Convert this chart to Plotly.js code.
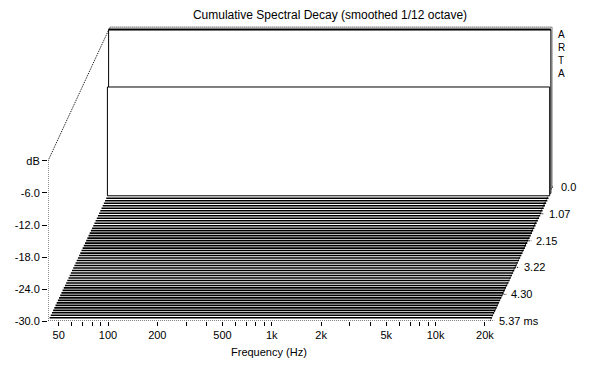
<!DOCTYPE html>
<html>
<head>
<meta charset="utf-8">
<script src="https://cdn.plot.ly/plotly-3.0.1.min.js"></script>
<style>html,body{margin:0;padding:0;background:#fff}#chart{width:595px;height:366px}</style>
</head>
<body>
<div id="chart"></div>
<script>
// ---------------- data ----------------
const sliceTimes = [0.000,0.107,0.215,0.322,0.430,0.537,0.644,0.752,0.859,0.967,
  1.074,1.181,1.289,1.396,1.504,1.611,1.718,1.826,1.933,2.041,
  2.148,2.255,2.363,2.470,2.578,2.685,2.792,2.900,3.007,3.115,
  3.222,3.329,3.437,3.544,3.652,3.759,3.866,3.974,4.081,4.189,
  4.296,4.403,4.511,4.618,4.726,4.833,4.940,5.048,5.155,5.263,5.370];
// level of each decay slice (dB), flat over frequency
const sliceLevels = [1.3,-9.0,-29.4,-29.4,-29.4,-29.4,-29.4,-29.4,-29.4,-29.4,
  -29.4,-29.4,-29.4,-29.4,-29.4,-29.4,-29.4,-29.4,-29.4,-29.4,
  -29.4,-29.4,-29.4,-29.4,-29.4,-29.4,-29.4,-29.4,-29.4,-29.4,
  -29.4,-29.4,-29.4,-29.4,-29.4,-29.4,-29.4,-29.4,-29.4,-29.4,
  -29.4,-29.4,-29.4,-29.4,-29.4,-29.4,-29.4,-29.4,-29.4,-29.4,-29.4];
const sliceFreqs = [44, 22050];          // frequency span of each slice (Hz)
const sliceFloor = -29.4;                // dB floor of the slices

const freqTicks = [50,60,70,80,90,100,200,300,400,500,600,700,800,900,1000,
  2000,3000,4000,5000,6000,7000,8000,9000,10000,20000];
const freqLabels = {50:'50',100:'100',200:'200',500:'500',1000:'1k',2000:'2k',5000:'5k',10000:'10k',20000:'20k'};
const dbTicks = [-30,-24,-18,-12,-6,0];
const dbLabels = ['-30.0','-24.0','-18.0','-12.0','-6.0','dB'];
const timeTicks = [0.0,1.07,2.15,3.22,4.30,5.37];
const timeLabels = ['0.0','1.07','2.15','3.22','4.30','5.37 ms'];

const axisFreq = [43, 21500];   // front frequency axis extent (Hz)
const axisDb = [-30, 0];
const TMAX = 5.37;

// ------------- projection (oblique 3D) -------------
const AX_DX = 0.3785, AX_DY = 25.1;   // depth offset of axis box (decades, dB)
const SL_DX = 0.3602, SL_DY = 23.34;  // depth offset of slices
const depth = t => (TMAX - t) / TMAX;
const L = Math.log10;
function proj(f, t, db, dx, dy) {
  const s = depth(t);
  return [Math.pow(10, L(f) + s*dx), db + s*dy];
}

const traces = [];
const dotted = {color:'#000', width:1, dash:'1px,1px'};
function seg(pts, line) {
  traces.push({type:'scatter', mode:'lines', x:pts.map(p=>p[0]), y:pts.map(p=>p[1]),
    line: line, hoverinfo:'skip', showlegend:false});
}
// axis frame
const fA = axisFreq[0], fB = axisFreq[1];
seg([proj(fA,TMAX,axisDb[0],AX_DX,AX_DY), proj(fA,TMAX,axisDb[1],AX_DX,AX_DY),
     proj(fA,0,axisDb[1],AX_DX,AX_DY), proj(fB,0,axisDb[1],AX_DX,AX_DY),
     proj(fB,0,axisDb[0],AX_DX,AX_DY)], dotted);
seg([proj(fA,TMAX,axisDb[0],AX_DX,AX_DY), proj(fB,TMAX,axisDb[0],AX_DX,AX_DY),
     proj(fB,0,axisDb[0],AX_DX,AX_DY)], dotted);
// time ticks
timeTicks.forEach(t => {
  const p = proj(fB,t,axisDb[0],AX_DX,AX_DY);
  seg([p, [p[0]*Math.pow(10,0.026), p[1]]], dotted);
});

// slices, back to front
sliceTimes.forEach((t,i) => {
  const lv = sliceLevels[i];
  const f0 = sliceFreqs[0], f1 = sliceFreqs[1];
  if (lv > sliceFloor) {
    const pts = [proj(f0,t,sliceFloor,SL_DX,SL_DY), proj(f0,t,lv,SL_DX,SL_DY),
                 proj(f1,t,lv,SL_DX,SL_DY), proj(f1,t,sliceFloor,SL_DX,SL_DY),
                 proj(f0,t,sliceFloor,SL_DX,SL_DY)];
    traces.push({type:'scatter', mode:'lines', x:pts.map(p=>p[0]), y:pts.map(p=>p[1]),
      fill:'toself', fillcolor:'#fff', line:{color:'#000', width:1},
      hoverinfo:'skip', showlegend:false});
    if (i === 0) seg([proj(f0,t,lv,SL_DX,SL_DY), proj(f1,t,lv,SL_DX,SL_DY)], {color:'#000', width:2});
  } else {
    seg([proj(f0,t,lv,SL_DX,SL_DY), proj(f1,t,lv,SL_DX,SL_DY)], {color:'#000', width:1.6});
  }
});

const annotations = timeTicks.map((t,i) => {
  const p = proj(fB,t,axisDb[0],AX_DX,AX_DY);
  return {x:L(p[0]), y:p[1], xref:'x', yref:'y', text:timeLabels[i], showarrow:false,
    xanchor:'left', yanchor:'middle', xshift:7, font:{size:11}};
});
annotations.push({x:(L(fA)+L(fB))/2, xref:'x', y:-0.105, yref:'paper', text:'Frequency (Hz)',
  showarrow:false, xanchor:'center', yanchor:'middle', font:{size:11}});
annotations.push({x:1.006, xref:'paper', y:0.905, yref:'paper', text:'A<br>R<br>T<br>A',
  showarrow:false, xanchor:'left', yanchor:'middle', align:'left', font:{size:10}});

const layout = {
  width:595, height:366,
  margin:{l:48, r:42, t:26, b:45, pad:0},
  paper_bgcolor:'#fff', plot_bgcolor:'#fff',
  font:{family:'"Liberation Sans", Arial, sans-serif', size:11, color:'#000'},
  title:{text:'Cumulative Spectral Decay (smoothed 1/12 octave)', font:{size:12},
    x:330/595, xanchor:'center', xref:'container', y:1-15/366, yanchor:'middle', yref:'container'},
  xaxis:{type:'log', range:[1.6337, 4.7167], showgrid:false, zeroline:false, showline:false,
    tickvals:freqTicks, ticktext:freqTicks.map(v=>freqLabels[v]||''), ticks:'outside',
    ticklen:4, tickcolor:'#000', tickwidth:1, fixedrange:true},
  yaxis:{range:[-30, 25.31], showgrid:false, zeroline:false, showline:false,
    tickvals:dbTicks, ticktext:dbLabels, ticks:'outside', ticklen:5, tickcolor:'#000',
    tickwidth:1, fixedrange:true},
  annotations:annotations,
  showlegend:false
};
Plotly.newPlot('chart', traces, layout, {staticPlot:true, displayModeBar:false});
</script>
</body>
</html>
